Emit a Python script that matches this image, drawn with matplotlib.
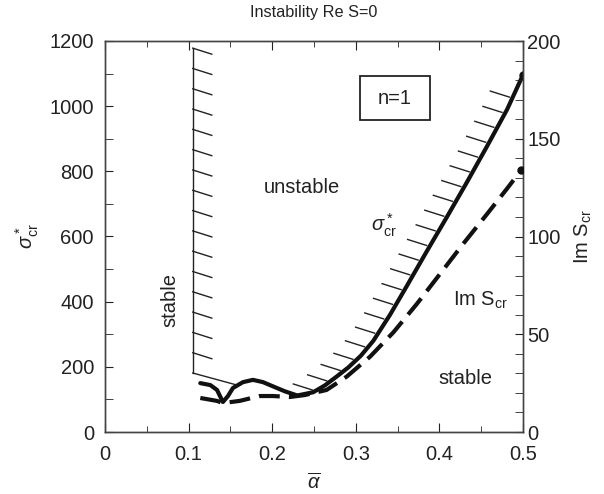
import numpy as np
import matplotlib
matplotlib.use("Agg")
import matplotlib.pyplot as plt
from matplotlib.patches import Rectangle

plt.rcParams["font.family"] = ["Liberation Sans", "DejaVu Sans"]
plt.rcParams["mathtext.fontset"] = "custom"
plt.rcParams["mathtext.rm"] = "Liberation Sans"
plt.rcParams["mathtext.it"] = "Liberation Sans:italic"
plt.rcParams["mathtext.bf"] = "Liberation Sans:bold"

# ---- data ----
# critical sigma* (left axis)
sigma_alpha = [0.114, 0.126, 0.134, 0.141, 0.147, 0.153, 0.165, 0.177, 0.189,
               0.201, 0.215, 0.230, 0.249, 0.263, 0.277, 0.291, 0.306, 0.321,
               0.341, 0.361, 0.385, 0.409, 0.433, 0.457, 0.481, 0.500]
sigma_cr = [150, 144, 129, 92, 110, 135, 153, 160, 153,
            140, 125, 112, 122, 143, 170, 198, 234, 280,
            360, 448, 555, 660, 767, 877, 990, 1096]

# Im S_cr (right axis)
ims_alpha = [0.114, 0.134, 0.141, 0.161, 0.185, 0.201, 0.221, 0.239, 0.265,
             0.289, 0.317, 0.345, 0.373, 0.401, 0.428, 0.457, 0.480, 0.498]
ims_cr = [17.4, 15.9, 14.8, 15.9, 18.4, 18.4, 17.9, 18.9, 21.5,
          28.3, 38.5, 51.0, 65.5, 81.0, 96.0, 111.5, 124.0, 134.0]

# vertical stability wall at small alpha
WALL_ALPHA = 0.105
WALL_TOP, WALL_BOTTOM = 1178, 181
WALL_JOIN = (0.158, 144)      # slanted line from wall foot to curve
N_WALL_HATCH = 16
HATCH_START_ALPHA = 0.232    # hatching along sigma* curve starts here

FS = 14.5
FG = "#222222"

fig = plt.figure(figsize=(6.04, 4.94), dpi=100)
ax = fig.add_axes([105 / 604, 1 - 432 / 494, 418 / 604, 391 / 494])
ax2 = ax.twinx()

ax.set_xlim(0, 0.5)
ax.set_ylim(0, 1200)
ax2.set_ylim(0, 200)

# pixel scale (for hatch geometry)
px_a = 418 / 0.5
px_s = 391 / 1200.0

# curves
ax.plot(sigma_alpha, sigma_cr, color="#111111", lw=3.0, solid_capstyle="round",
        solid_joinstyle="round", zorder=4)
ax.plot(sigma_alpha[-1:], sigma_cr[-1:], "o", color="#111111", ms=5, zorder=4)
ax2.plot(ims_alpha, ims_cr, color="#111111", lw=3.0, dashes=(5, 2.2), zorder=4)
ax2.plot(ims_alpha[-1:], ims_cr[-1:], "o", color="#111111", ms=5, zorder=4)

# hatch geometry in pixels
HDX, HDY = 19.0, 6.0
hkw = dict(color=FG, lw=1.0, zorder=3)

# wall + hatches
ax.plot([WALL_ALPHA, WALL_ALPHA], [WALL_TOP, WALL_BOTTOM], **hkw)
step = (WALL_TOP - WALL_BOTTOM) / N_WALL_HATCH
for k in range(N_WALL_HATCH):
    y0 = WALL_TOP - k * step
    ax.plot([WALL_ALPHA, WALL_ALPHA + HDX / px_a], [y0, y0 - HDY / px_s], **hkw)
ax.plot([WALL_ALPHA, WALL_JOIN[0]], [WALL_BOTTOM, WALL_JOIN[1]], **hkw)

# hatches along sigma* curve
fine_a = np.linspace(HATCH_START_ALPHA, 0.495, 2000)
fine_s = np.interp(fine_a, sigma_alpha, sigma_cr)
pxx, pyy = fine_a * px_a, fine_s * px_s
arc = np.concatenate([[0], np.cumsum(np.hypot(np.diff(pxx), np.diff(pyy)))])
for d in np.arange(0, arc[-1], 17.0):
    i = np.searchsorted(arc, d)
    x1, y1 = pxx[i] - 3.0, pyy[i] + 1.0
    ax.plot([x1 / px_a, (x1 - HDX) / px_a], [y1 / px_s, (y1 + HDY) / px_s], **hkw)

# annotations
ax.text(0.078, 405, "stable", rotation=90, ha="center", va="center", fontsize=FS, color=FG)
ax.text(0.236, 749, "unstable", ha="center", va="center", fontsize=FS, color=FG)
ax.text(0.333, 633, r"$\sigma^*_{\rm cr}$", ha="center", va="center", fontsize=FS, color=FG)
ax.text(0.449, 405, r"Im S$_{\rm cr}$", ha="center", va="center", fontsize=FS, color=FG)
ax.text(0.431, 163, "stable", ha="center", va="center", fontsize=FS, color=FG)
ax.add_patch(Rectangle((0.305, 957), 0.084, 136, fill=False, lw=1.3, ec=FG, zorder=5))
ax.text(0.347, 1025, "n=1", ha="center", va="center", fontsize=FS, color=FG)

# axes styling
ax.set_title("Instability Re S=0", fontsize=11.7, color=FG, pad=17)
ax.set_xlabel(r"$\overline{\alpha}$", fontsize=FS, color=FG, labelpad=6)
ax.set_ylabel(r"$\sigma^*_{\rm cr}$", fontsize=FS, color=FG, labelpad=6)
ax2.set_ylabel(r"Im S$_{\rm cr}$", fontsize=FS, color=FG, rotation=90, labelpad=9)

ax.set_xticks(np.arange(0, 0.51, 0.1))
ax.set_xticklabels(["0", "0.1", "0.2", "0.3", "0.4", "0.5"])
ax.set_xticks(np.arange(0.05, 0.5, 0.1), minor=True)
ax.set_yticks(np.arange(0, 1201, 200))
ax.set_yticks(np.arange(100, 1200, 200), minor=True)
ax2.set_yticks(np.arange(0, 201, 50))
ax2.set_yticks(np.arange(0, 201, 10), minor=True)

ax.tick_params(axis="x", which="both", direction="in", top=True, labelsize=FS,
               colors=FG, pad=9)
ax.tick_params(axis="x", which="major", length=6.5)
ax.tick_params(axis="x", which="minor", length=4)
ax.tick_params(axis="y", which="both", direction="in", right=False, labelsize=FS,
               colors=FG, pad=8, length=6)
ax2.tick_params(axis="y", which="both", direction="in", labelsize=FS, colors=FG,
                pad=3, length=5.5)

for a in (ax, ax2):
    for sp in a.spines.values():
        sp.set_color("#444444")
        sp.set_linewidth(1.0)

fig.savefig("out.png", dpi=100)
